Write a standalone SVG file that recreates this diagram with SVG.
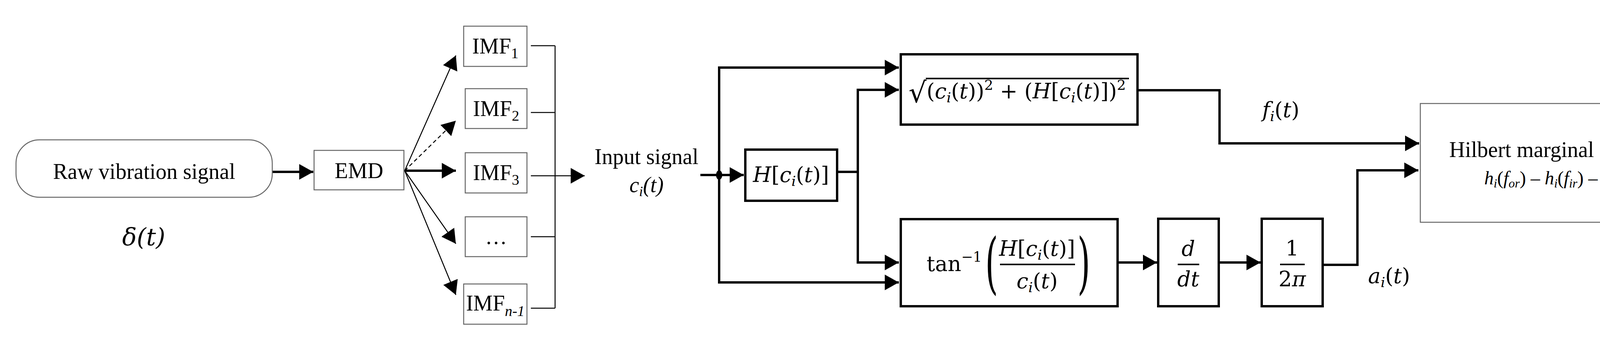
<svg xmlns="http://www.w3.org/2000/svg" width="4424" height="873" viewBox="0 0 4424 873">
<style>
.thin{fill:none;stroke:#000;stroke-width:2.5}
.gbox{fill:#fff;stroke:#666;stroke-width:2.5}
.tbox{fill:#fff;stroke:#000;stroke-width:6}
.ln{fill:none;stroke:#000;stroke-width:6}
.sv{font-family:"Liberation Serif",serif;font-size:56px;fill:#000}
.m{font-family:"DejaVu Serif","Liberation Serif",serif;font-style:italic;font-size:54px;fill:#000}
.mr{font-family:"DejaVu Serif","Liberation Serif",serif;font-size:54px;fill:#000}
</style>
<defs>
<marker id="ah" markerUnits="userSpaceOnUse" markerWidth="38" markerHeight="40" refX="36" refY="20" orient="auto"><path d="M0,0 L36,20 L0,40 z" fill="#000"/></marker>
</defs>
<g id="connectors">
<line class="ln" x1="697" y1="440" x2="802" y2="440" marker-end="url(#ah)"/>
<line class="thin" x1="1036" y1="437" x2="1167" y2="142" marker-end="url(#ah)"/>
<line class="thin" x1="1036" y1="437" x2="1167" y2="309" stroke-dasharray="10,7" marker-end="url(#ah)"/>
<line class="ln" x1="1036" y1="437" x2="1167" y2="437" stroke-width="4" marker-end="url(#ah)"/>
<line class="thin" x1="1036" y1="437" x2="1167" y2="624" marker-end="url(#ah)"/>
<line class="thin" x1="1036" y1="437" x2="1167" y2="755" marker-end="url(#ah)"/>
<path class="thin" d="M1359,117 H1421 M1359,288 H1421 M1359,606 H1421 M1359,789 H1421 M1421,117 V789"/>
<line class="thin" x1="1359" y1="450" x2="1497" y2="450" marker-end="url(#ah)"/>
<line class="ln" x1="1793" y1="448" x2="1904" y2="448" marker-end="url(#ah)"/>
<ellipse cx="1841" cy="448" rx="8" ry="12" fill="#000"/>
<path class="ln" d="M1841,173 V723"/>
<line class="ln" x1="1838" y1="173" x2="2301" y2="173" marker-end="url(#ah)"/>
<line class="ln" x1="1838" y1="723" x2="2301" y2="723" marker-end="url(#ah)"/>
<path class="ln" d="M2143,440 H2196 M2196,230 V672"/>
<line class="ln" x1="2193" y1="230" x2="2301" y2="230" marker-end="url(#ah)"/>
<line class="ln" x1="2193" y1="672" x2="2301" y2="672" marker-end="url(#ah)"/>
<line class="ln" x1="2861" y1="672" x2="2962" y2="672" marker-end="url(#ah)"/>
<line class="ln" x1="3120" y1="672" x2="3227" y2="672" marker-end="url(#ah)"/>
<path class="ln" d="M2912,231 H3122 V367"/>
<line class="ln" x1="3119" y1="367" x2="3633" y2="367" marker-end="url(#ah)"/>
<path class="ln" d="M3386,678 H3475 V436"/>
<line class="ln" x1="3472" y1="436" x2="3631" y2="436" marker-end="url(#ah)"/>
</g>
<g id="raw">
<rect class="gbox" x="41" y="358" width="656" height="147" rx="60"/>
<text class="sv" x="369" y="458" text-anchor="middle">Raw vibration signal</text>
<text class="m" x="368" y="628" text-anchor="middle" style="font-size:62px">δ(t)</text>
</g>
<g id="emd">
<rect class="gbox" x="804" y="385" width="230" height="101"/>
<text class="sv" x="919" y="456" text-anchor="middle">EMD</text>
</g>
<g id="imf1"><rect class="gbox" x="1187" y="67" width="162" height="103"/><text class="sv" x="1268" y="137" text-anchor="middle">IMF<tspan font-size="38" dy="12">1</tspan></text></g>
<g id="imf2"><rect class="gbox" x="1191" y="227" width="158" height="102"/><text class="sv" x="1270" y="297" text-anchor="middle">IMF<tspan font-size="38" dy="12">2</tspan></text></g>
<g id="imf3"><rect class="gbox" x="1191" y="391" width="158" height="103"/><text class="sv" x="1270" y="461" text-anchor="middle">IMF<tspan font-size="38" dy="12">3</tspan></text></g>
<g id="imfdots"><rect class="gbox" x="1191" y="555" width="158" height="102"/><text class="sv" x="1270" y="625" text-anchor="middle">…</text></g>
<g id="imfn1"><rect class="gbox" x="1187" y="727" width="162" height="103"/><text class="sv" x="1268" y="795" text-anchor="middle">IMF<tspan font-size="38" dy="14" font-style="italic">n-1</tspan></text></g>
<g id="input">
<text class="sv" x="1655" y="420" text-anchor="middle">Input signal</text>
<text class="sv" x="1655" y="492" text-anchor="middle" font-style="italic">c<tspan font-size="36" dy="10">i</tspan><tspan dy="-10">(t)</tspan></text>
</g>
<g id="hilbert">
<rect class="tbox" x="1908" y="383" width="235" height="131"/>
<text class="m" x="2025" y="466" text-anchor="middle">H<tspan font-style="normal">[</tspan>c<tspan font-size="36" dy="10">i</tspan><tspan dy="-10" font-style="normal">(</tspan>t<tspan font-style="normal">)]</tspan></text>
</g>
<g id="amp">
<rect class="tbox" x="2306" y="139" width="606" height="180"/>
<text class="mr" x="2326" y="262" style="font-size:72px">√</text>
<line x1="2370" y1="201" x2="2890" y2="201" stroke="#000" stroke-width="4"/>
<text class="m" x="2372" y="252"><tspan font-style="normal">(</tspan>c<tspan font-size="36" dy="10">i</tspan><tspan dy="-10" font-style="normal">(</tspan>t<tspan font-style="normal">))</tspan><tspan font-style="normal" font-size="36" dy="-22">2</tspan><tspan font-style="normal" dy="22"> + (</tspan>H<tspan font-style="normal">[</tspan>c<tspan font-size="36" dy="10">i</tspan><tspan dy="-10" font-style="normal">(</tspan>t<tspan font-style="normal">)])</tspan><tspan font-style="normal" font-size="36" dy="-22">2</tspan></text>
</g>
<g id="phase">
<rect class="tbox" x="2306" y="561" width="555" height="223"/>
<text class="mr" x="2372" y="694">tan<tspan font-size="36" dy="-24">−1</tspan></text>
<text class="mr" x="2522" y="732" transform="translate(2522,0) scale(0.5,1) translate(-2522,0)" style="font-size:170px">(</text>
<text class="m" x="2655" y="655" text-anchor="middle">H<tspan font-style="normal">[</tspan>c<tspan font-size="36" dy="10">i</tspan><tspan dy="-10" font-style="normal">(</tspan>t<tspan font-style="normal">)]</tspan></text>
<line x1="2560" y1="677" x2="2752" y2="677" stroke="#000" stroke-width="4"/>
<text class="m" x="2655" y="738" text-anchor="middle">c<tspan font-size="36" dy="10">i</tspan><tspan dy="-10" font-style="normal">(</tspan>t<tspan font-style="normal">)</tspan></text>
<text class="mr" x="2758" y="732" transform="translate(2758,0) scale(0.5,1) translate(-2758,0)" style="font-size:170px">)</text>
</g>
<g id="ddt">
<rect class="tbox" x="2965" y="560" width="155" height="224"/>
<text class="m" x="3042" y="655" text-anchor="middle">d</text>
<line x1="3015" y1="677" x2="3070" y2="677" stroke="#000" stroke-width="4"/>
<text class="m" x="3042" y="733" text-anchor="middle">dt</text>
</g>
<g id="inv2pi">
<rect class="tbox" x="3230" y="560" width="156" height="224"/>
<text class="mr" x="3308" y="655" text-anchor="middle">1</text>
<line x1="3277" y1="677" x2="3340" y2="677" stroke="#000" stroke-width="4"/>
<text class="mr" x="3308" y="733" text-anchor="middle">2<tspan font-style="italic">π</tspan></text>
</g>
<g id="labels">
<text class="m" x="3279" y="300" text-anchor="middle">f<tspan font-size="36" dy="10">i</tspan><tspan dy="-10" font-style="normal">(</tspan>t<tspan font-style="normal">)</tspan></text>
<text class="m" x="3556" y="725" text-anchor="middle">a<tspan font-size="36" dy="10">i</tspan><tspan dy="-10" font-style="normal">(</tspan>t<tspan font-style="normal">)</tspan></text>
</g>
<g id="spectrum">
<rect class="gbox" x="3636" y="265" width="732" height="304"/>
<text class="sv" x="4005" y="402" text-anchor="middle">Hilbert marginal spectrum</text>
<text class="sv" x="3998" y="472" text-anchor="middle" font-style="italic" style="font-size:48px">h<tspan font-size="32" dy="8">i</tspan><tspan dy="-8" font-style="normal">(</tspan>f<tspan font-size="32" dy="8">or</tspan><tspan dy="-8" font-style="normal">) – </tspan>h<tspan font-size="32" dy="8">i</tspan><tspan dy="-8" font-style="normal">(</tspan>f<tspan font-size="32" dy="8">ir</tspan><tspan dy="-8" font-style="normal">) – </tspan>h<tspan font-size="32" dy="8">i</tspan><tspan dy="-8" font-style="normal">(</tspan>f<tspan font-size="32" dy="8">b</tspan><tspan dy="-8" font-style="normal">)</tspan></text>
</g>
</svg>
